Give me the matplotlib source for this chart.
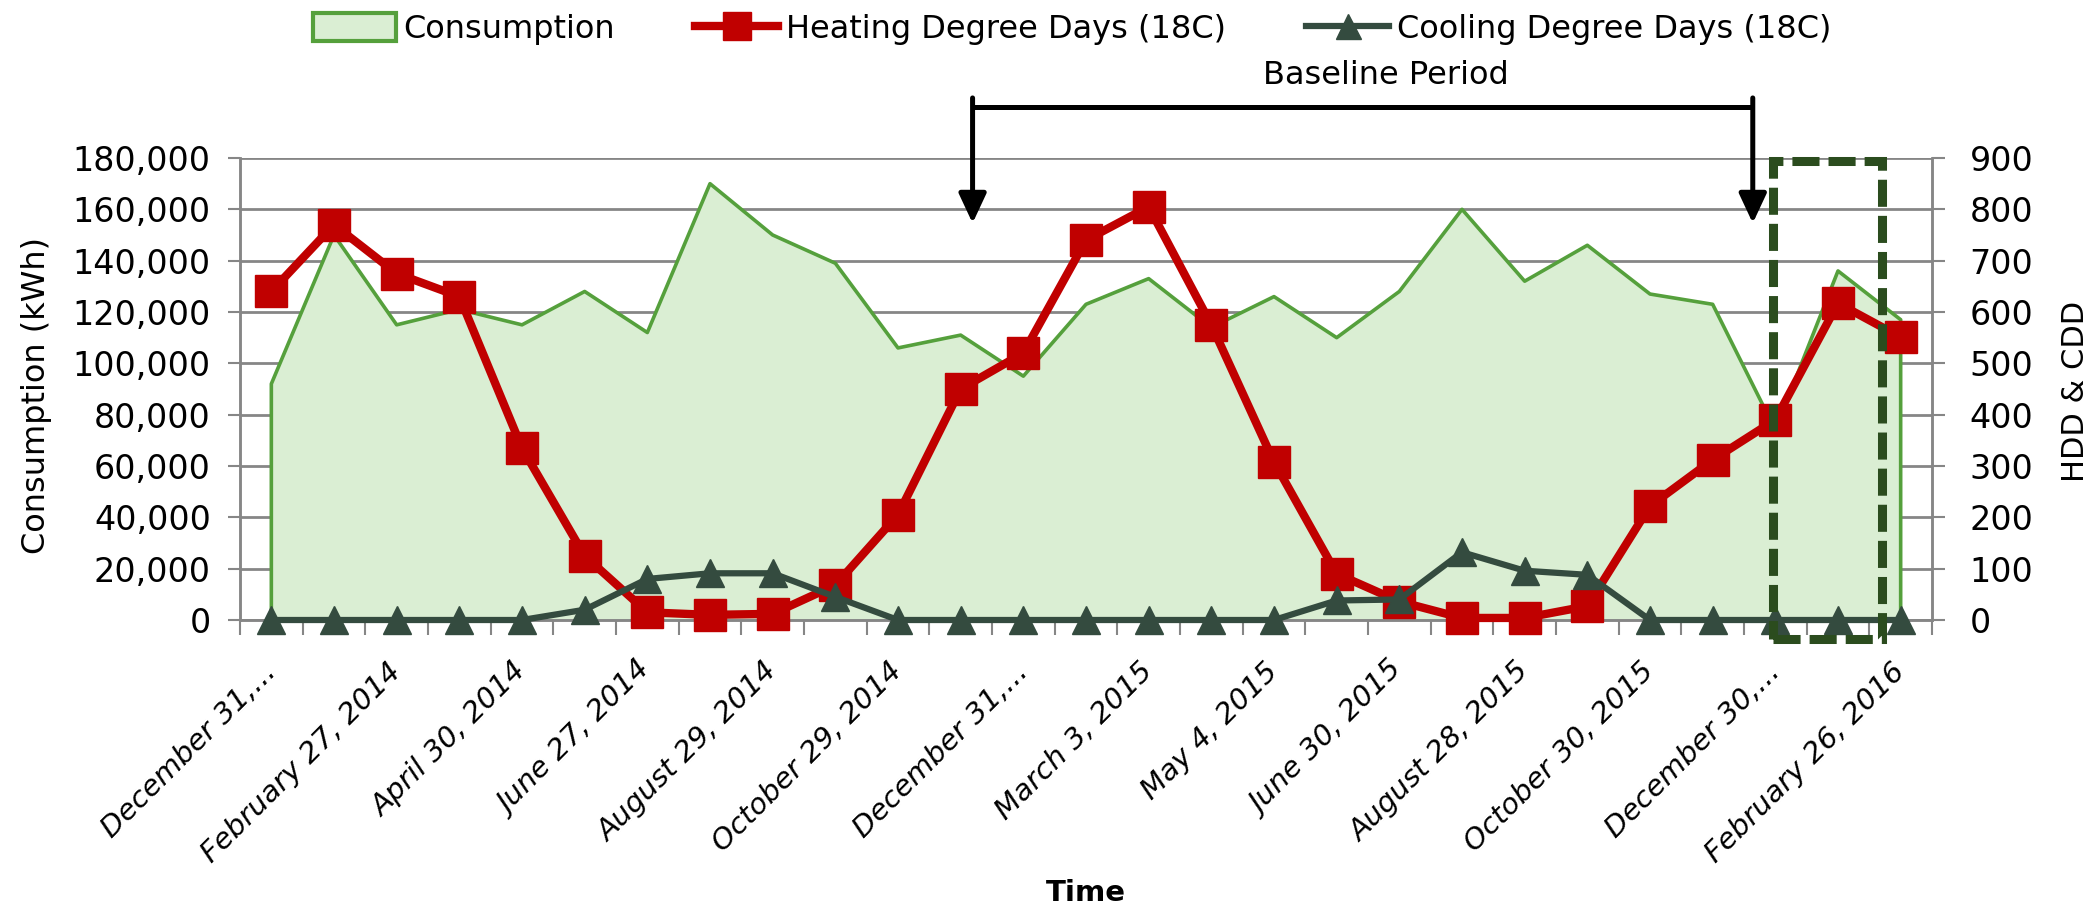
import numpy as np
import matplotlib
matplotlib.use('Agg')
from matplotlib import pyplot as plt
from matplotlib.patches import Patch, Rectangle
from matplotlib.lines import Line2D
from matplotlib.ticker import FuncFormatter, FixedLocator

# ---- data ----
consumption = [92000, 150000, 115000, 121000, 115000, 128000, 112000, 170000, 150000,
               139000, 106000, 111000, 95000, 123000, 133000, 114000, 126000, 110000,
               128000, 160000, 132000, 146000, 127000, 123000, 74000, 136000, 117000]
hdd = [640, 770, 675, 630, 335, 125, 15, 10, 12, 68, 205, 450, 520, 740, 805, 575,
       308, 90, 36, 4, 4, 27, 222, 312, 390, 617, 551]
cdd = [0, 0, 0, 0, 0, 20, 80, 91, 91, 45, 0, 0, 0, 0, 0, 0, 0, 38, 40, 132, 96, 88,
       0, 0, 0, 0, 0]
tick_labels = ["December 31,...", "February 27, 2014", "April 30, 2014", "June 27, 2014",
               "August 29, 2014", "October 29, 2014", "December 31,...", "March 3, 2015",
               "May 4, 2015", "June 30, 2015", "August 28, 2015", "October 30, 2015",
               "December 30,...", "February 26, 2016"]

# ---- styles ----
GREEN = '#55A03C'
FILL = '#DAEED3'
RED = '#C00000'
DARK = '#344B3F'
BOX = '#2B4C1E'
GRID = '#868686'

plt.rcParams['font.family'] = ['DejaVu Sans']

n = len(consumption)
x = np.arange(n)

fig = plt.figure(figsize=(21, 9.1), dpi=100)
ax = fig.add_axes([240 / 2100, 290 / 910, 1692 / 2100, 462 / 910])
ax2 = ax.twinx()

# consumption area
ax.fill_between(x, 0, consumption, facecolor=FILL, edgecolor='none', zorder=2)
ax.plot(np.r_[x[0], x, x[-1]], np.r_[0, consumption, 0], color=GREEN, lw=2.6,
        zorder=3, clip_on=False)

ax.set_xlim(-0.5, n - 0.5)
ax.set_ylim(0, 180000)
ax.set_yticks(np.arange(0, 180001, 20000))
ax.yaxis.set_major_formatter(FuncFormatter(lambda v, p: '{:,.0f}'.format(v)))
ax.grid(axis='y', color=GRID, lw=2.0, zorder=0)
ax.set_axisbelow(True)

# x ticks: labels on every other category, marks at category boundaries
ax.xaxis.set_major_locator(FixedLocator(x[::2]))
ax.set_xticklabels(tick_labels, rotation=45, ha='right', va='center',
                   rotation_mode='anchor', fontsize=21, style='italic')
ax.xaxis.set_minor_locator(FixedLocator(np.arange(-0.5, n, 1)))
ax.tick_params(axis='x', which='major', length=0, pad=34)
ax.tick_params(axis='x', which='minor', length=11, width=1.5, color=GRID)
ax.tick_params(axis='y', length=9, width=1.5, color=GRID, labelsize=24, pad=12)

# heating / cooling degree days
ax2.plot(x, hdd, color=RED, lw=6, marker='s', markersize=23, zorder=4,
         clip_on=False, label='Heating Degree Days (18C)')
ax2.plot(x, cdd, color=DARK, lw=4.5, marker='^', markersize=20, zorder=5,
         clip_on=False, label='Cooling Degree Days (18C)')
ax2.set_ylim(0, 900)
ax2.set_yticks(np.arange(0, 901, 100))
ax2.tick_params(axis='y', length=9, width=1.5, color=GRID, labelsize=24, pad=18)

for a in (ax, ax2):
    a.spines['top'].set_visible(False)
    for s in ('left', 'right', 'bottom'):
        a.spines[s].set_color(GRID)
        a.spines[s].set_linewidth(1.8)

ax.set_ylabel('Consumption (kWh)', fontsize=23, va='center')
ax.yaxis.set_label_coords(-0.12, 0.485)
ax2.set_ylabel('HDD & CDD', fontsize=22, va='center', rotation=90)
ax2.yaxis.set_label_coords(1.085, 0.494)
ax.set_xlabel('Time', fontsize=21, fontweight='bold', va='center')
ax.xaxis.set_label_coords(0.5, -0.591)

# baseline period bracket
bx0, bx1 = 11.19, 23.64
ax2.plot([bx0, bx1], [1000, 1000], color='black', lw=3.6, clip_on=False,
         solid_capstyle='butt')
for bx in (bx0, bx1):
    ax2.annotate('', xy=(bx, 773), xytext=(bx, 1017), annotation_clip=False,
                 arrowprops=dict(arrowstyle='-|>,head_length=0.6,head_width=0.28',
                                 lw=3.6, color='black', mutation_scale=30,
                                 shrinkA=0, shrinkB=0))
ax2.text(17.78, 1060, 'Baseline Period', fontsize=23, ha='center', va='center',
         clip_on=False)

# dashed highlight box
ax2.add_patch(Rectangle((23.97, -37), 1.73, 931, fill=False, edgecolor=BOX, lw=6.5,
                        linestyle=(0, (3, 1)), clip_on=False, zorder=6))

# legend
handles = [Patch(facecolor=FILL, edgecolor=GREEN, lw=3, label='Consumption'),
           Line2D([], [], color=RED, lw=6, marker='s', markersize=20,
                  label='Heating Degree Days (18C)'),
           Line2D([], [], color=DARK, lw=4.5, marker='^', markersize=18,
                  label='Cooling Degree Days (18C)')]
fig.legend(handles=handles, loc='center', bbox_to_anchor=(0.5105, 0.968), ncol=3,
           frameon=False, fontsize=23, handlelength=2.6, handleheight=0.95,
           handletextpad=0.25, columnspacing=2.5)

fig.savefig('out.png', dpi=100)
